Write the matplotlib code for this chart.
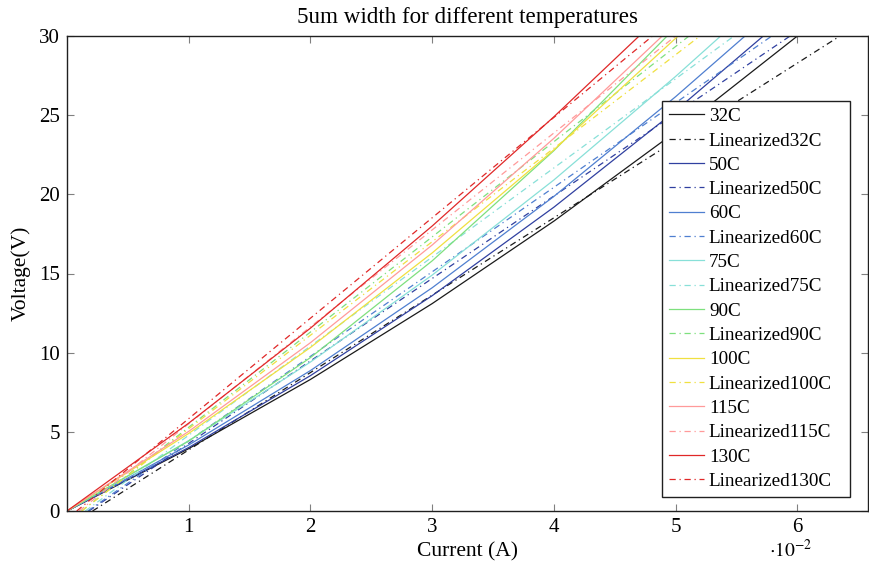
import matplotlib
matplotlib.use('Agg')
matplotlib.rcParams.update({
	"font.family": "Liberation Serif",
	"mathtext.fontset": "stix",
	"font.size": 15.5,
	"axes.titlesize": 16.6,
	"axes.labelsize": 15.5,
	"xtick.labelsize": 15.0,
	"ytick.labelsize": 15.0,
	"legend.fontsize": 13.8,
})
from matplotlib import pyplot as plt

# temperatures and their colours
temps = ['32C', '50C', '60C', '75C', '90C', '100C', '115C', '130C']
colors = ['#1a1a1a', '#3040a0', '#4f7fd0', '#88e0d8', '#7ee07e', '#f0e040', '#ff9a9a', '#e02828']

i_32 = [0, 0.01, 0.02, 0.03, 0.04, 0.05, 0.0600]
v_32 = [0, 3.94, 8.31, 13.1, 18.31, 23.95, 30.0]
i_50 = [0, 0.01, 0.02, 0.03, 0.04, 0.05, 0.0572]
v_50 = [0, 4.01, 8.55, 13.6, 19.19, 25.28, 30.0]
i_60 = [0, 0.01, 0.02, 0.03, 0.04, 0.05, 0.0557]
v_60 = [0, 4.17, 8.87, 14.1, 19.87, 26.17, 30.0]
i_75 = [0, 0.01, 0.02, 0.03, 0.04, 0.05, 0.0537]
v_75 = [0, 4.44, 9.41, 14.9, 20.91, 27.45, 30.0]
i_90 = [0, 0.01, 0.02, 0.03, 0.04, 0.0493]
v_90 = [0, 4.42, 9.69, 15.8, 22.76, 30.0]
i_100 = [0, 0.01, 0.02, 0.03, 0.04, 0.0502]
v_100 = [0, 4.90, 10.33, 16.3, 22.81, 30.0]
i_115 = [0, 0.01, 0.02, 0.03, 0.04, 0.0489]
v_115 = [0, 5.03, 10.63, 16.8, 23.54, 30.0]
i_130 = [0, 0.01, 0.02, 0.03, 0.04, 0.0470]
v_130 = [0, 5.55, 11.55, 18.0, 24.90, 30.0]

currents = [i_32, i_50, i_60, i_75, i_90, i_100, i_115, i_130]
voltages = [v_32, v_50, v_60, v_75, v_90, v_100, v_115, v_130]

# linearized fits: current at 0 V and at 30 V
lin_i0 = [0.0021, 0.0018, 0.0017, 0.0015, 0.0012, 0.0012, 0.0010, 0.0008]
lin_i30 = [0.0635, 0.0594, 0.0579, 0.0548, 0.0511, 0.0520, 0.0500, 0.0481]
lin_v = [0, 30]

fig = plt.figure(figsize=(8.7, 5.64), dpi=100)
ax = fig.add_axes([67/870., 1 - 511/564., 801/870., 475/564.])

for t, c, cur, vol, i0, i30 in zip(temps, colors, currents, voltages, lin_i0, lin_i30):
	ax.plot(cur, vol, color=c, lw=0.9, label=t)
	ax.plot([i0, i30], lin_v, color=c, lw=0.9, linestyle=(0, (5, 3, 1, 3)), label='Linearized' + t)

ax.set_xlim(0, 0.0658)
ax.set_ylim(0, 30)
ax.set_xticks([0.01, 0.02, 0.03, 0.04, 0.05, 0.06])
ax.set_xticklabels(['1', '2', '3', '4', '5', '6'])
ax.set_yticks([0, 5, 10, 15, 20, 25, 30])
ax.tick_params(direction='in', length=5, width=0.8, color='#808080', top=True, right=True, pad=5)
for sp in ax.spines.values():
	sp.set_linewidth(1.0)
	sp.set_color('#202020')

ax.set_title('5um width for different temperatures', pad=9)
ax.set_xlabel('Current (A)', labelpad=4)
ax.set_ylabel('Voltage(V)', labelpad=6)
# scale factor of the x axis, placed like pgfplots does
ax.text(0.903, -0.082, r'$\cdot 10^{-2}$', transform=ax.transAxes, ha='center', va='center', fontsize=14)

# legend box stretched to the width it has in the original
lgd = ax.legend(loc='upper left', bbox_to_anchor=(0.7428, 0., 0.2347, 0.863), mode='expand',
	frameon=True, fancybox=False, edgecolor='#202020', framealpha=1, handlelength=1.85,
	handletextpad=0.25, borderpad=0.35, labelspacing=0.36, borderaxespad=0)
lgd.get_frame().set_linewidth(1.0)

fig.savefig('out.png', dpi=100)
